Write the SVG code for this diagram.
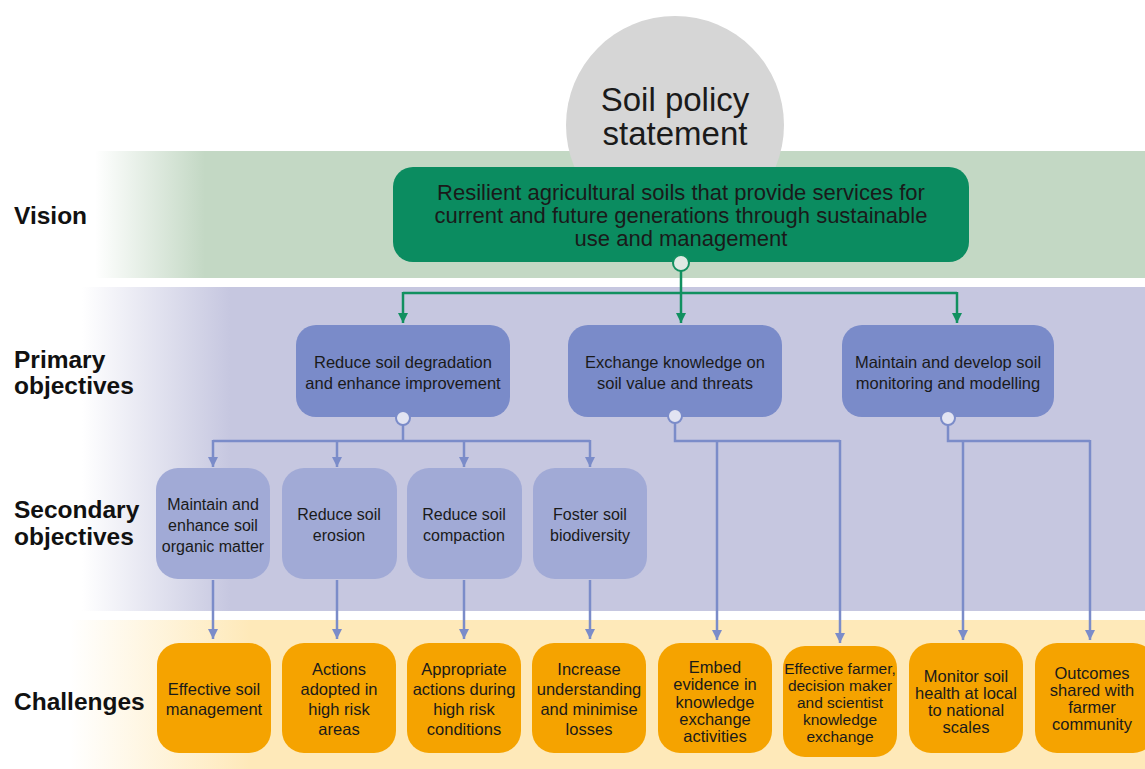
<svg xmlns="http://www.w3.org/2000/svg" width="1145" height="769" viewBox="0 0 1145 769">
<defs>
<linearGradient id="gGreen" gradientUnits="userSpaceOnUse" x1="95" y1="0" x2="205" y2="0">
<stop offset="0" stop-color="#c3d8c4" stop-opacity="0"/><stop offset="1" stop-color="#c3d8c4"/>
</linearGradient>
<linearGradient id="gPurple" gradientUnits="userSpaceOnUse" x1="82" y1="0" x2="230" y2="0">
<stop offset="0" stop-color="#c6c7e0" stop-opacity="0"/><stop offset="1" stop-color="#c6c7e0"/>
</linearGradient>
<linearGradient id="gYellow" gradientUnits="userSpaceOnUse" x1="70" y1="0" x2="250" y2="0">
<stop offset="0" stop-color="#fee9b9" stop-opacity="0"/><stop offset="1" stop-color="#fee9b9"/>
</linearGradient>
<marker id="ag" markerUnits="userSpaceOnUse" markerWidth="12" markerHeight="10" refX="10" refY="5" orient="auto" viewBox="0 0 10 10">
<path d="M0,0 L10,5 L0,10 z" fill="#119060"/>
</marker>
<marker id="ab" markerUnits="userSpaceOnUse" markerWidth="12" markerHeight="10" refX="10" refY="5" orient="auto" viewBox="0 0 10 10">
<path d="M0,0 L10,5 L0,10 z" fill="#7b8cc9"/>
</marker>
<style>
.lbl{font-family:"Liberation Sans",Arial,sans-serif;font-weight:bold;font-size:24.5px;fill:#111}
.t{font-family:"Liberation Sans",Arial,sans-serif;fill:#1a1a1a;text-anchor:middle}
.prim{fill:#7a8bc9}
.sec{fill:#a1aad6}
.ch{fill:#f5a300}
.cg{fill:none;stroke:#119060;stroke-width:2.5}
.cb{fill:none;stroke:#7b8cc9;stroke-width:2.5}
.dot{fill:#e2e4f2;stroke:#7b8cc9;stroke-width:2}
</style>
</defs>
<rect width="1145" height="769" fill="#ffffff"/>
<!-- bands -->
<rect x="95" y="151" width="1050" height="127" fill="url(#gGreen)"/>
<rect x="82" y="287" width="1063" height="324" fill="url(#gPurple)"/>
<rect x="70" y="620" width="1075" height="149" fill="url(#gYellow)"/>
<!-- row labels -->
<text class="lbl" x="14" y="224">Vision</text>
<text class="lbl" x="14" y="368">Primary</text>
<text class="lbl" x="14" y="394">objectives</text>
<text class="lbl" x="14" y="518">Secondary</text>
<text class="lbl" x="14" y="545">objectives</text>
<text class="lbl" x="14" y="710">Challenges</text>

<g id="statement">
<circle cx="675" cy="125" r="109" fill="#d6d6d6"/>
<text class="t" x="675" y="111" font-size="33">Soil policy</text>
<text class="t" x="675" y="145" font-size="33">statement</text>
</g>
<g id="vision">
<rect x="393" y="167" width="576" height="95" rx="20" fill="#0b8c60"/>
<text class="t" x="681" y="200" font-size="22">Resilient agricultural soils that provide services for</text>
<text class="t" x="681" y="223" font-size="22">current and future generations through sustainable</text>
<text class="t" x="681" y="246" font-size="22">use and management</text>
</g>

<g id="connectors">
<path class="cg" d="M681,270 V293 M403,293 H957"/>
<path class="cg" d="M403,292 V323" marker-end="url(#ag)"/>
<path class="cg" d="M681,292 V323" marker-end="url(#ag)"/>
<path class="cg" d="M957,292 V323" marker-end="url(#ag)"/>
<circle cx="681" cy="263" r="8" fill="#dfe9e3" stroke="#119060" stroke-width="2"/>

<path class="cb" d="M403,425 V441 M213,441 H590"/>
<path class="cb" d="M213,440 V467" marker-end="url(#ab)"/>
<path class="cb" d="M337,440 V467" marker-end="url(#ab)"/>
<path class="cb" d="M464,440 V467" marker-end="url(#ab)"/>
<path class="cb" d="M590,440 V467" marker-end="url(#ab)"/>

<path class="cb" d="M213,580 V639" marker-end="url(#ab)"/>
<path class="cb" d="M337,580 V639" marker-end="url(#ab)"/>
<path class="cb" d="M464,580 V639" marker-end="url(#ab)"/>
<path class="cb" d="M590,580 V639" marker-end="url(#ab)"/>

<path class="cb" d="M675,423 V441 H840"/>
<path class="cb" d="M717,440 V640" marker-end="url(#ab)"/>
<path class="cb" d="M840,440 V643" marker-end="url(#ab)"/>

<path class="cb" d="M948,425 V441 H1090"/>
<path class="cb" d="M963,440 V640" marker-end="url(#ab)"/>
<path class="cb" d="M1090,440 V640" marker-end="url(#ab)"/>
</g>

<g id="p1">
<rect class="prim" x="296" y="325" width="214" height="92" rx="20"/>
<text class="t" x="403" y="368" font-size="16.5">Reduce soil degradation</text>
<text class="t" x="403" y="389" font-size="16.5">and enhance improvement</text>
<circle class="dot" cx="403" cy="418" r="7"/>
</g>
<g id="p2">
<rect class="prim" x="568" y="325" width="214" height="92" rx="20"/>
<text class="t" x="675" y="368" font-size="16.5">Exchange knowledge on</text>
<text class="t" x="675" y="389" font-size="16.5">soil value and threats</text>
<circle class="dot" cx="675" cy="416" r="7"/>
</g>
<g id="p3">
<rect class="prim" x="842" y="325" width="212" height="92" rx="20"/>
<text class="t" x="948" y="368" font-size="16.5">Maintain and develop soil</text>
<text class="t" x="948" y="389" font-size="16.5">monitoring and modelling</text>
<circle class="dot" cx="948" cy="418" r="7"/>
</g>

<g id="s1">
<rect class="sec" x="156" y="468" width="114" height="111" rx="22"/>
<text class="t" x="213" y="510" font-size="16">Maintain and</text>
<text class="t" x="213" y="531" font-size="16">enhance soil</text>
<text class="t" x="213" y="552" font-size="16">organic matter</text>
</g>
<g id="s2">
<rect class="sec" x="282" y="468" width="115" height="111" rx="22"/>
<text class="t" x="339" y="520" font-size="16">Reduce soil</text>
<text class="t" x="339" y="541" font-size="16">erosion</text>
</g>
<g id="s3">
<rect class="sec" x="407" y="468" width="115" height="111" rx="22"/>
<text class="t" x="464" y="520" font-size="16">Reduce soil</text>
<text class="t" x="464" y="541" font-size="16">compaction</text>
</g>
<g id="s4">
<rect class="sec" x="533" y="468" width="114" height="111" rx="22"/>
<text class="t" x="590" y="520" font-size="16">Foster soil</text>
<text class="t" x="590" y="541" font-size="16">biodiversity</text>
</g>

<g id="c1">
<rect class="ch" x="157" y="643" width="114" height="110" rx="22"/>
<text class="t" x="214" y="695" font-size="16.5">Effective soil</text>
<text class="t" x="214" y="715" font-size="16.5">management</text>
</g>
<g id="c2">
<rect class="ch" x="282" y="643" width="114" height="110" rx="22"/>
<text class="t" x="339" y="675" font-size="16.5">Actions</text>
<text class="t" x="339" y="695" font-size="16.5">adopted in</text>
<text class="t" x="339" y="715" font-size="16.5">high risk</text>
<text class="t" x="339" y="735" font-size="16.5">areas</text>
</g>
<g id="c3">
<rect class="ch" x="407" y="643" width="114" height="110" rx="22"/>
<text class="t" x="464" y="675" font-size="16.5">Appropriate</text>
<text class="t" x="464" y="695" font-size="16.5">actions during</text>
<text class="t" x="464" y="715" font-size="16.5">high risk</text>
<text class="t" x="464" y="735" font-size="16.5">conditions</text>
</g>
<g id="c4">
<rect class="ch" x="532" y="643" width="114" height="110" rx="22"/>
<text class="t" x="589" y="675" font-size="16.5">Increase</text>
<text class="t" x="589" y="695" font-size="16.5">understanding</text>
<text class="t" x="589" y="715" font-size="16.5">and minimise</text>
<text class="t" x="589" y="735" font-size="16.5">losses</text>
</g>
<g id="c5">
<rect class="ch" x="658" y="643" width="114" height="110" rx="22"/>
<text class="t" x="715" y="673" font-size="16.5">Embed</text>
<text class="t" x="715" y="690" font-size="16.5">evidence in</text>
<text class="t" x="715" y="708" font-size="16.5">knowledge</text>
<text class="t" x="715" y="725" font-size="16.5">exchange</text>
<text class="t" x="715" y="742" font-size="16.5">activities</text>
</g>
<g id="c6">
<rect class="ch" x="783" y="646" width="114" height="111" rx="22"/>
<text class="t" x="840" y="674" font-size="15.5">Effective farmer,</text>
<text class="t" x="840" y="691" font-size="15.5">decision maker</text>
<text class="t" x="840" y="708" font-size="15.5">and scientist</text>
<text class="t" x="840" y="725" font-size="15.5">knowledge</text>
<text class="t" x="840" y="742" font-size="15.5">exchange</text>
</g>
<g id="c7">
<rect class="ch" x="909" y="643" width="114" height="110" rx="22"/>
<text class="t" x="966" y="682" font-size="16.5">Monitor soil</text>
<text class="t" x="966" y="699" font-size="16.5">health at local</text>
<text class="t" x="966" y="716" font-size="16.5">to national</text>
<text class="t" x="966" y="733" font-size="16.5">scales</text>
</g>
<g id="c8">
<rect class="ch" x="1035" y="643" width="120" height="110" rx="22"/>
<text class="t" x="1092" y="679" font-size="16.5">Outcomes</text>
<text class="t" x="1092" y="696" font-size="16.5">shared with</text>
<text class="t" x="1092" y="713" font-size="16.5">farmer</text>
<text class="t" x="1092" y="730" font-size="16.5">community</text>
</g>
</svg>
